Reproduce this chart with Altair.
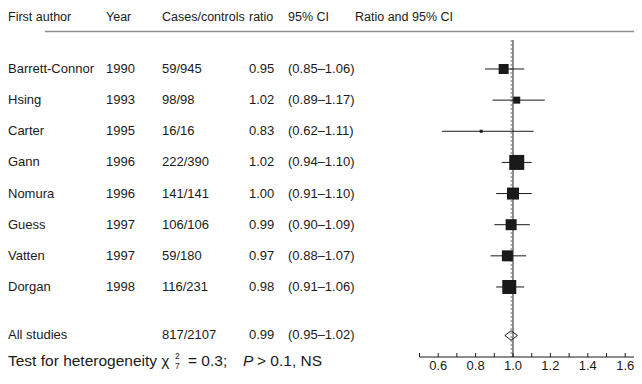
import altair as alt
import pandas as pd

# ---- data ----
authors = ["Barrett-Connor", "Hsing", "Carter", "Gann", "Nomura", "Guess", "Vatten", "Dorgan"]
years = ["1990", "1993", "1995", "1996", "1996", "1997", "1997", "1998"]
cases = ["59/945", "98/98", "16/16", "222/390", "141/141", "106/106", "59/180", "116/231"]
ratios = [0.95, 1.02, 0.83, 1.02, 1.00, 0.99, 0.97, 0.98]
ci_low = [0.85, 0.89, 0.62, 0.94, 0.91, 0.90, 0.88, 0.91]
ci_high = [1.06, 1.17, 1.11, 1.10, 1.10, 1.09, 1.07, 1.06]
box_side = [10, 7, 3, 15, 12, 11, 11, 14]  # study weight shown as box size

pooled_label = "All studies"
pooled_cases = "817/2107"
pooled_ratio = 0.99
pooled_low = 0.95
pooled_high = 1.02

headers = ["First author", "Year", "Cases/controls", "ratio", "95% CI", "Ratio and 95% CI"]
tick_values = [0.5, 0.6, 0.7, 0.8, 0.9, 1.0, 1.1, 1.2, 1.3, 1.4, 1.5, 1.6]
label_values = [0.6, 0.8, 1.0, 1.2, 1.4, 1.6]
axis_start = 0.5
axis_end = 1.647

# ---- layout (row units / pixels) ----
FONT = "Liberation Sans"
TFS = 13
HFS = 12.5
W, H = 626, 364
INK = "#1a1a1a"
rows = list(range(1, len(authors) + 1))
pooled_row = 9.558
header_row = -0.670
rule_row = -0.204
ref_top_row = 0.069
axis_row = 10.249
tick_top_row = 10.121
tick_label_row = 10.329
foot_row = 10.377
y_dom = [-0.9589, 10.7303]
x_dom = [-1.70053, 1.64706]
col_x = [0, 98, 154, 241, 280, 347]

xs = alt.Scale(domain=x_dom, nice=False, zero=False)
ys = alt.Scale(domain=y_dom, nice=False, zero=False, reverse=True)


def X(f):
    return alt.X(f, scale=xs, axis=None)


def Y(f):
    return alt.Y(f, scale=ys, axis=None)


studies = pd.DataFrame({
    "author": authors, "year": years, "cases": cases,
    "ratio": ratios, "lo": ci_low, "hi": ci_high, "row": rows,
    "area": [s * s for s in box_side],
})
studies["ratio_txt"] = [f"{r:.2f}" for r in ratios]
studies["ci_txt"] = [f"({a:.2f}\u2013{b:.2f})" for a, b in zip(ci_low, ci_high)]

pooled = pd.DataFrame({
    "author": [pooled_label], "year": [""], "cases": [pooled_cases],
    "ratio": [pooled_ratio], "lo": [pooled_low], "hi": [pooled_high],
    "row": [pooled_row],
    "ratio_txt": [f"{pooled_ratio:.2f}"],
    "ci_txt": [f"({pooled_low:.2f}\u2013{pooled_high:.2f})"],
})
table = pd.concat([studies, pooled], ignore_index=True)

base = alt.Chart(studies)

ci_rules = base.mark_rule(color=INK, strokeWidth=1).encode(
    x=X("lo:Q"), x2="hi:Q", y=Y("row:Q"))

boxes = base.mark_square(color=INK, opacity=1).encode(
    x=X("ratio:Q"), y=Y("row:Q"), size=alt.Size("area:Q", scale=None))

ref_df = pd.DataFrame({"v": [1.0], "top": [ref_top_row], "bot": [axis_row]})
ref_line = alt.Chart(ref_df).mark_rule(color=INK, strokeWidth=1).encode(
    x=X("v:Q"), y=Y("top:Q"), y2="bot:Q")

pool_df = pd.DataFrame({"v": [pooled_ratio], "top": [ref_top_row], "bot": [axis_row]})
pool_line = alt.Chart(pool_df).mark_rule(color="#808080", strokeWidth=1, strokeDash=[2, 2]).encode(
    x=X("v:Q"), y=Y("top:Q"), y2="bot:Q")

diamond = alt.Chart(pooled).mark_point(
    shape="M-1,0L0,-0.75L1,0L0,0.75Z", filled=False, color=INK,
    strokeWidth=1, size=160, opacity=1).encode(
    x=X("ratio:Q"), y=Y("row:Q"))

# axis drawn from the x scale: baseline, upward ticks, labels
axis_df = pd.DataFrame({"a": [axis_start], "b": [axis_end], "y": [axis_row]})
axis_line = alt.Chart(axis_df).mark_rule(color=INK, strokeWidth=1).encode(
    x=X("a:Q"), x2="b:Q", y=Y("y:Q"))

ticks_df = pd.DataFrame({"v": tick_values, "y1": [axis_row] * len(tick_values),
                         "y2": [tick_top_row] * len(tick_values)})
ticks = alt.Chart(ticks_df).mark_rule(color=INK, strokeWidth=1).encode(
    x=X("v:Q"), y=Y("y1:Q"), y2="y2:Q")

tl_df = pd.DataFrame({"v": label_values, "t": [f"{v:.1f}" for v in label_values],
                      "y": [tick_label_row] * len(label_values)})
tick_labels = alt.Chart(tl_df).mark_text(
    align="center", baseline="top", font=FONT, fontSize=13, color=INK).encode(
    x=X("v:Q"), y=Y("y:Q"), text="t:N")

hr_df = pd.DataFrame({"y": [rule_row]})
header_rule = alt.Chart(hr_df).mark_rule(color="#8f8f8f", strokeWidth=1.5).encode(
    x=alt.value(37), x2=alt.value(W), y=Y("y:Q"))

hdr_df = pd.DataFrame({"t": headers, "row": [header_row] * len(headers)})
header_layers = []
for i, h in enumerate(headers):
    header_layers.append(
        alt.Chart(hdr_df[hdr_df.t == h]).mark_text(
            align="left", baseline="middle", font=FONT, fontSize=HFS, color=INK).encode(
            x=alt.value(col_x[i]), y=Y("row:Q"), text="t:N"))

text_layers = []
for i, field in enumerate(["author", "year", "cases", "ratio_txt", "ci_txt"]):
    text_layers.append(
        alt.Chart(table).mark_text(
            align="left", baseline="middle", font=FONT, fontSize=TFS, color=INK).encode(
            x=alt.value(col_x[i]), y=Y("row:Q"), text=f"{field}:N"))

foot_parts = [
    ("Test for heterogeneity \u03c7", 0, 0, 15.5, "normal"),
    ("2", 167, -5, 8.5, "normal"),
    ("7", 167, 5, 8.5, "normal"),
    ("= 0.3;", 180, 0, 15.5, "normal"),
    ("P", 235, 0, 15.5, "italic"),
    ("> 0.1, NS", 249, 0, 15.5, "normal"),
]
foot_df = pd.DataFrame({"t": [p[0] for p in foot_parts], "row": [foot_row] * len(foot_parts)})
foot_layers = []
for t, px, dy, fs, style in foot_parts:
    foot_layers.append(
        alt.Chart(foot_df[foot_df.t == t]).mark_text(
            align="left", baseline="middle", font=FONT, fontSize=fs, fontStyle=style,
            dy=dy, color=INK).encode(
            x=alt.value(px), y=Y("row:Q"), text="t:N"))

chart = alt.layer(
    header_rule, pool_line, ref_line, axis_line, ticks, tick_labels,
    ci_rules, boxes, diamond,
    *header_layers, *text_layers, *foot_layers,
).properties(
    width=W, height=H,
    autosize=alt.AutoSizeParams(type="none"),
    padding=0,
).configure_view(stroke=None)

chart.save("out.html", embed_options={"renderer": "svg", "actions": False})
